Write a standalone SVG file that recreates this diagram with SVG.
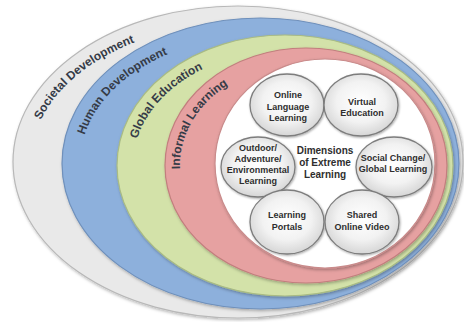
<svg xmlns="http://www.w3.org/2000/svg" width="464" height="322" viewBox="0 0 464 322">
<defs>
<filter id="sh" x="-10%" y="-10%" width="120%" height="120%"><feDropShadow dx="1" dy="1.5" stdDeviation="1.5" flood-color="#000" flood-opacity="0.3"/></filter>
<filter id="csh" x="-20%" y="-20%" width="140%" height="140%"><feDropShadow dx="0.8" dy="1" stdDeviation="1" flood-color="#000" flood-opacity="0.35"/></filter>
<radialGradient id="cg" cx="50%" cy="45%" r="55%"><stop offset="0" stop-color="#ffffff"/><stop offset="0.6" stop-color="#f2f2f2"/><stop offset="1" stop-color="#d6d6d6"/></radialGradient>
<path id="p1" d="M40.8,120 A207,138 0 0,1 341.5,42.5"/>
<path id="p2" d="M84.6,135 A180.5,127.5 0 0,1 350.8,53.1"/>
<path id="p3" d="M137.1,139 A152,114.5 0 0,1 361,66.3"/>
<path id="p4" d="M180,169 A126,102.5 0 0,1 369,76.7"/>
</defs>
<style>
.band{stroke-width:1.2;filter:url(#sh)}
.bl{font-family:"Liberation Sans",Arial,sans-serif;font-weight:bold;font-size:12px;fill:#353b47}
.c{fill:url(#cg);stroke:#7d7d7d;stroke-width:1.3;filter:url(#csh)}
.t{font-family:"Liberation Sans",Arial,sans-serif;font-weight:bold;font-size:9px;fill:#2e2e2e;text-anchor:middle}
.d{font-size:10px}
</style>
<rect width="464" height="322" fill="#ffffff"/>
<g id="societal-development">
<ellipse class="band" cx="238" cy="162" rx="225" ry="156" fill="#e9e9e9" stroke="#b8b8b8"/>
<text class="bl"><textPath href="#p1">Societal Development</textPath></text>
</g>
<g id="human-development">
<ellipse class="band" cx="260.5" cy="163.5" rx="198.5" ry="145.5" fill="#8db0dc" stroke="#6f90bb"/>
<text class="bl"><textPath href="#p2">Human Development</textPath></text>
</g>
<g id="global-education">
<ellipse class="band" cx="285" cy="165.5" rx="168" ry="130.5" fill="#d3e2a9" stroke="#a9bb84"/>
<text class="bl"><textPath href="#p3">Global Education</textPath></text>
</g>
<g id="informal-learning">
<ellipse class="band" cx="306" cy="165.5" rx="141" ry="117.5" fill="#e6a1a1" stroke="#c27e7e"/>
<text class="bl"><textPath href="#p4">Informal Learning</textPath></text>
</g>
<g id="dimensions">
<ellipse class="band" cx="325" cy="163.5" rx="110" ry="104.5" fill="#ffffff" stroke="#c98b8b"/>
<text class="t d" x="325" y="153.5">Dimensions</text>
<text class="t d" x="325" y="165.5">of Extreme</text>
<text class="t d" x="325" y="178">Learning</text>
</g>
<g id="online-language-learning">
<ellipse class="c" cx="287" cy="105" rx="37" ry="31"/>
<text class="t" x="288" y="98">Online</text>
<text class="t" x="288" y="109.5">Language</text>
<text class="t" x="288" y="121">Learning</text>
</g>
<g id="virtual-education">
<ellipse class="c" cx="361" cy="105" rx="37" ry="31"/>
<text class="t" x="362" y="105">Virtual</text>
<text class="t" x="362" y="116">Education</text>
</g>
<g id="outdoor-learning">
<ellipse class="c" cx="258" cy="167" rx="37" ry="30"/>
<text class="t" x="258" y="150.5">Outdoor/</text>
<text class="t" x="258" y="161.5">Adventure/</text>
<text class="t" x="258" y="172.5">Environmental</text>
<text class="t" x="258" y="183.5">Learning</text>
</g>
<g id="social-change">
<ellipse class="c" cx="394" cy="167" rx="38" ry="30"/>
<text class="t" x="393" y="161">Social Change/</text>
<text class="t" x="393" y="171.5">Global Learning</text>
</g>
<g id="learning-portals">
<ellipse class="c" cx="287" cy="222" rx="37" ry="32"/>
<text class="t" x="287" y="218">Learning</text>
<text class="t" x="287" y="230">Portals</text>
</g>
<g id="shared-online-video">
<ellipse class="c" cx="362" cy="222" rx="37" ry="32"/>
<text class="t" x="362" y="218">Shared</text>
<text class="t" x="362" y="230">Online Video</text>
</g>
<g id="connectors"></g>
</svg>
